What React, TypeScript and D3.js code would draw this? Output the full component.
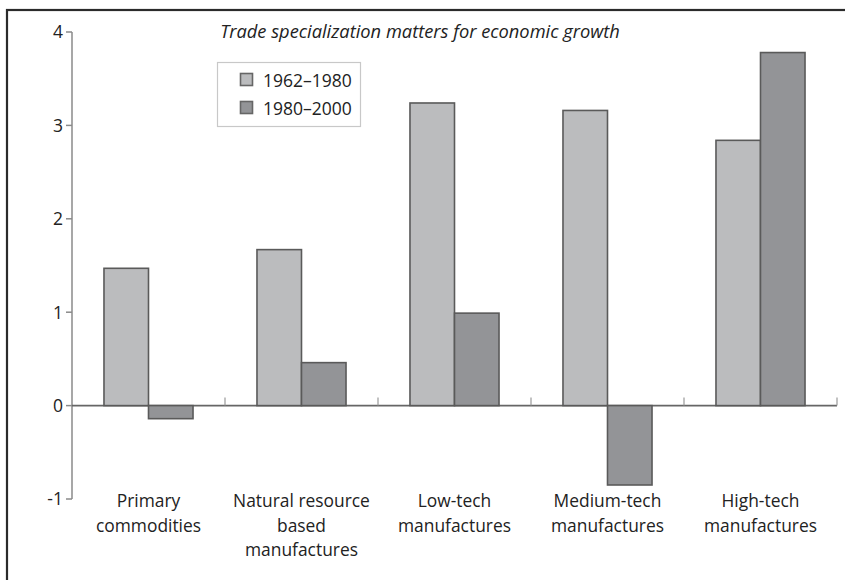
import React from "react";
import * as d3 from "d3";

const categories = ["Primary commodities", "Natural resource based manufactures", "Low-tech manufactures", "Medium-tech manufactures", "High-tech manufactures"];
const categoryLines = [
  ["Primary", "commodities"],
  ["Natural resource", "based", "manufactures"],
  ["Low-tech", "manufactures"],
  ["Medium-tech", "manufactures"],
  ["High-tech", "manufactures"],
];
const seriesNames = ["1962–1980", "1980–2000"];
const values1962 = [1.47, 1.67, 3.24, 3.16, 2.84];
const values1980 = [-0.14, 0.46, 0.99, -0.85, 3.78];
const yTicks = [-1, 0, 1, 2, 3, 4];
const title = "Trade specialization matters for economic growth";
const colors = ["#bbbcbe", "#939497"];

const W = 845;
const H = 580;
const FONT = "'Open Sans', sans-serif";

export default function App() {
  const x = d3.scaleBand<string>().domain(categories).range([72, 837]).padding(0);
  const bw = x.bandwidth();
  const xs = d3.scaleBand<string>().domain(seriesNames).range([bw * 0.209, bw * 0.791]).padding(0);
  const y = d3.scaleLinear().domain([-1, 4]).range([499, 32]);
  const seriesVals = [values1962, values1980];
  const y0 = y(0);

  return (
    <svg width={W} height={H} style={{ position: "absolute", left: 0, top: 0 }} fontFamily={FONT}>
      <rect x={0} y={0} width={W} height={H} fill="#fff" />
      <rect x={7} y={10} width={W + 20} height={H + 20} fill="none" stroke="#2b2b2b" strokeWidth={2.2} />
      <text x={420} y={37.5} textAnchor="middle" fontStyle="italic" fontSize={18.3} fill="#222">{title}</text>

      {/* y axis */}
      <line x1={72} x2={72} y1={y(4)} y2={y(-1)} stroke="#8a8a8a" strokeWidth={1.5} />
      {yTicks.map((t) => (
        <g key={t}>
          <line x1={66} x2={72} y1={y(t)} y2={y(t)} stroke="#8a8a8a" strokeWidth={1.5} />
          <text x={63} y={y(t)} dy="0.36em" textAnchor="end" fontSize={17.5} fill="#222">{t}</text>
        </g>
      ))}

      {/* zero line and category ticks */}
      <line x1={72} x2={837} y1={y0} y2={y0} stroke="#666" strokeWidth={1.6} />
      {categories.map((c) => (
        <line key={c} x1={(x(c) as number) + bw} x2={(x(c) as number) + bw} y1={y0} y2={y0 - 8} stroke="#999" strokeWidth={1.2} />
      ))}

      {/* bars */}
      {seriesNames.map((s, si) =>
        categories.map((c, ci) => {
          const v = seriesVals[si][ci];
          const bx = (x(c) as number) + (xs(s) as number);
          const top = Math.min(y(v), y0);
          const h = Math.abs(y(v) - y0);
          return (
            <rect key={s + c} x={bx} y={top} width={xs.bandwidth()} height={h} fill={colors[si]} stroke="#5a5a5a" strokeWidth={1.6} />
          );
        })
      )}

      {/* category labels */}
      {categories.map((c, ci) => (
        <text key={c} x={(x(c) as number) + bw / 2} y={507} textAnchor="middle" fontSize={17.4} fill="#222">
          {categoryLines[ci].map((ln, li) => (
            <tspan key={li} x={(x(c) as number) + bw / 2} dy={li === 0 ? 0 : 24.5}>{ln}</tspan>
          ))}
        </text>
      ))}

      {/* legend */}
      <rect x={217.5} y={62.5} width={143} height={64} fill="#fff" stroke="#c8c8c8" strokeWidth={1.2} />
      {seriesNames.map((s, i) => (
        <g key={s}>
          <rect x={240.5} y={73.5 + i * 28} width={12} height={12} fill={colors[i]} stroke="#666" strokeWidth={1.6} />
          <text x={263} y={86.5 + i * 28} fontSize={17.5} fill="#222">{s}</text>
        </g>
      ))}
    </svg>
  );
}
